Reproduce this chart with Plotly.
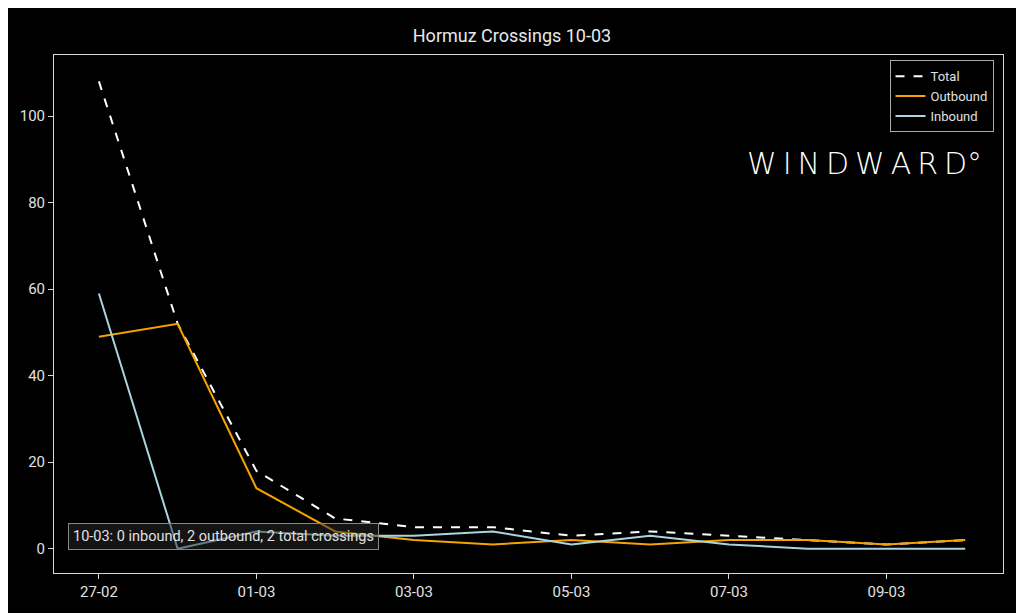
import plotly.graph_objects as go

dates = ["27-02","28-02","01-03","02-03","03-03","04-03","05-03","06-03","07-03","08-03","09-03","10-03"]
total = [108, 52, 18, 7, 5, 5, 3, 4, 3, 2, 1, 2]
outbound = [49, 52, 14, 4, 2, 1, 2, 1, 2, 2, 1, 2]
inbound = [59, 0, 4, 3, 3, 4, 1, 3, 1, 0, 0, 0]
tick_labels = dates[::2]
xs = list(range(len(dates)))

fig = go.Figure()
fig.add_trace(go.Scatter(x=xs, y=total, name="Total", mode="lines", line=dict(color="white", dash="dash", width=2)))
fig.add_trace(go.Scatter(x=xs, y=outbound, name="Outbound", mode="lines", line=dict(color="#f5a300", width=2)))
fig.add_trace(go.Scatter(x=xs, y=inbound, name="Inbound", mode="lines", line=dict(color="#a9d4e0", width=2)))

ax = dict(showgrid=False, zeroline=False, showline=True, linecolor="#d8d8d8", linewidth=1, mirror=True,
          ticks="outside", tickcolor="#d8d8d8", ticklen=5, tickfont=dict(color="#e0e0e0", size=15))
fig.update_layout(
    width=1008, height=605, paper_bgcolor="black", plot_bgcolor="black",
    margin=dict(l=45, r=13, t=47, b=34),
    font=dict(family="Roboto", color="#e0e0e0"),
    title=dict(text="Hormuz Crossings 10-03", x=0.5, xanchor="center", y=0.965, font=dict(size=18, color="#e8e8e8")),
    xaxis=dict(range=[-0.57, 11.48], tickvals=xs[::2], ticktext=tick_labels, **ax),
    yaxis=dict(range=[-5.6, 114.1], tickvals=[0,20,40,60,80,100], **ax),
    legend=dict(x=0.99, y=0.99, xanchor="right", yanchor="top", bgcolor="black", bordercolor="#aaaaaa",
                borderwidth=1, font=dict(size=13, color="#e0e0e0"), tracegroupgap=0),
    annotations=[
        dict(text="W&#8201;I&#8201;N&#8201;D&#8201;W&#8201;A&#8201;R&#8201;D°", x=0.98, y=0.79, xref="paper", yref="paper",
             xanchor="right", yanchor="middle", showarrow=False,
             font=dict(size=30, color="white", family="DejaVu Sans", weight=200)),
        dict(text="10-03: 0 inbound, 2 outbound, 2 total crossings", x=0.015, y=0.07, xref="paper", yref="paper",
             xanchor="left", yanchor="middle", showarrow=False, bordercolor="#888888", borderwidth=1, borderpad=4,
             bgcolor="rgba(40,40,40,0.5)", font=dict(size=14.5, color="#e0e0e0")),
    ],
)
fig.write_html("out.html")
